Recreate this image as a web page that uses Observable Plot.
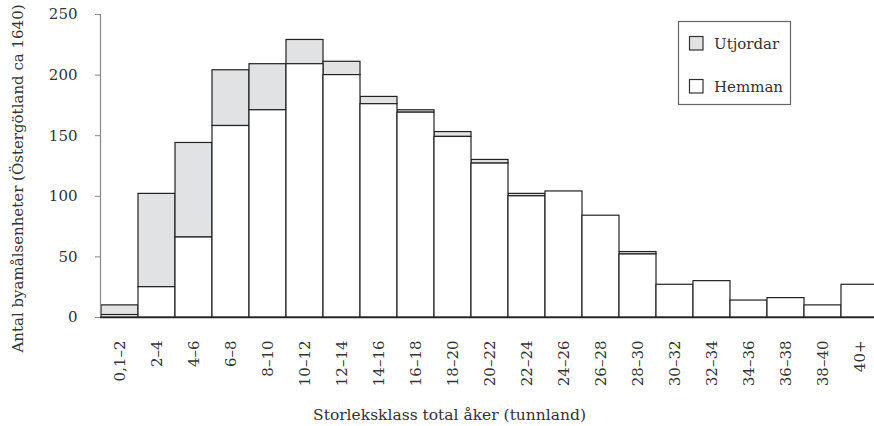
<!DOCTYPE html>
<html>
<head>
<meta charset="utf-8">
<script src="https://cdn.jsdelivr.net/npm/d3@7"></script>
<script src="https://cdn.jsdelivr.net/npm/@observablehq/plot@0.6"></script>
<style>
  html, body { margin: 0; padding: 0; background: #fff; }
  #chart { width: 874px; height: 426px; overflow: hidden; }
</style>
</head>
<body>
<div id="chart"></div>
<script>
// Size classes (tunnland)
const categories = ["0,1–2","2–4","4–6","6–8","8–10","10–12","12–14","14–16","16–18","18–20","20–22","22–24","24–26","26–28","28–30","30–32","32–34","34–36","36–38","38–40","40+"];
// Hemman per class
const hemman = [2,25,66,158,171,209,200,176,169,149,127,100,104,84,52,27,30,14,16,10,27];
// Utjordar per class (stacked on top of hemman)
const utjordar = [8,77,78,46,38,20,11,6,2,4,3,2,0,0,2,0,0,0,0,0,0];
const yTicks = [0,50,100,150,200,250];
const seriesNames = ["Utjordar","Hemman"];
const seriesColors = ["#e1e2e4","#ffffff"];
const xTitle = "Storleksklass total åker (tunnland)";
const yTitle = "Antal byamålsenheter (Östergötland ca 1640)";

const rows = categories.map((c, i) => ({cat: c, hemman: hemman[i], utjordar: utjordar[i], total: hemman[i] + utjordar[i]}));

const FONT = "DejaVu Serif";
const barStroke = "#222";

const plot = Plot.plot({
  width: 874,
  height: 426,
  marginLeft: 100,
  marginRight: -4,
  marginTop: 14,
  marginBottom: 109,
  style: {fontFamily: FONT, fontSize: "15px", background: "#fff", color: "#333"},
  x: {domain: categories, padding: 0},
  y: {domain: [0, 250]},
  marks: [
    Plot.barY(rows.filter(d => d.utjordar > 0), {x: "cat", y1: "hemman", y2: "total", fill: seriesColors[0], stroke: barStroke, strokeWidth: 1.2, inset: 0}),
    Plot.barY(rows, {x: "cat", y1: 0, y2: "hemman", fill: seriesColors[1], stroke: barStroke, strokeWidth: 1.2, inset: 0}),
    Plot.frame({anchor: "left", stroke: "#888", strokeWidth: 1.2}),
    Plot.ruleY([0], {stroke: "#222", strokeWidth: 1.4}),
    Plot.axisY({ticks: yTicks, tickSize: 5, tickPadding: 18, stroke: "#888", label: null, fontSize: 15}),
    Plot.axisX({tickRotate: -90, tickSize: 0, tickPadding: 23, label: null, fontSize: 15}),
    Plot.text([xTitle], {frameAnchor: "bottom", textAnchor: "middle", dx: -40, dy: 102, fontSize: 15.5, fill: "#333"}),
    Plot.text([yTitle], {frameAnchor: "left", textAnchor: "middle", rotate: -90, dx: -82, dy: 12.5, fontSize: 15, fill: "#333"})
  ]
});

// Legend box (drawn into the same SVG)
const svg = d3.select(plot);
const lg = svg.append("g").attr("font-family", FONT).attr("font-size", 15).attr("fill", "#333").attr("text-anchor", "start");
lg.append("rect").attr("x", 678.5).attr("y", 21.5).attr("width", 112).attr("height", 83)
  .attr("fill", "#fff").attr("stroke", "#666").attr("stroke-width", 1.2);
seriesNames.forEach((name, i) => {
  const y0 = 36 + i * 43;
  lg.append("rect").attr("x", 689.5).attr("y", y0 + 0.5).attr("width", 13.5).attr("height", 13.5)
    .attr("fill", seriesColors[i]).attr("stroke", "#333").attr("stroke-width", 1.2);
  lg.append("text").attr("x", 714).attr("y", y0 + 13).text(name);
});

document.getElementById("chart").appendChild(plot);
</script>
</body>
</html>
